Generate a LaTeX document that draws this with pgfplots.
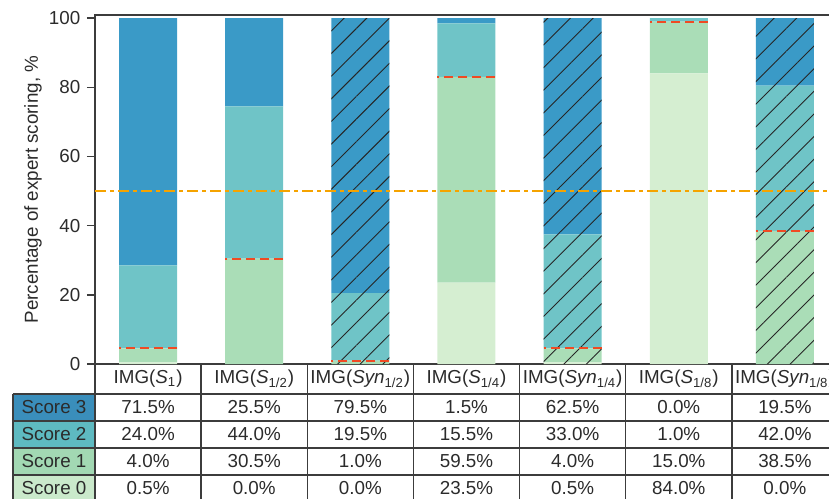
\documentclass[border=0pt]{standalone}
\usepackage{fontspec}
\setmainfont{Liberation Sans}
\usepackage{pgfplots}
\pgfplotsset{compat=1.18}
\usepackage{pgfplotstable}
\usetikzlibrary{patterns.meta}
\pgfkeys{/pgf/number format/assume math mode=true}

\definecolor{sthree}{HTML}{3A9AC7}
\definecolor{stwo}{HTML}{6FC4C7}
\definecolor{sone}{HTML}{AADDB7}
\definecolor{szero}{HTML}{D5EED1}
\definecolor{cthree}{HTML}{3A8EBB}
\definecolor{ctwo}{HTML}{5EBAC1}
\definecolor{cone}{HTML}{A2D8B3}
\definecolor{czero}{HTML}{CAE9CB}
\definecolor{axisgray}{HTML}{3C3C3C}
\definecolor{textgray}{HTML}{2B2B2B}
\definecolor{orangec}{HTML}{F5A300}
\definecolor{redc}{HTML}{F04A23}

% score shares per image, score 0 at the bottom of each bar
\pgfplotstableread{
x  s0   s1   s2   s3
0  0.5  4.0  24.0 71.5
1  0.0  30.5 44.0 25.5
2  0.0  1.0  19.5 79.5
3  23.5 59.5 15.5 1.5
4  0.5  4.0  33.0 62.5
5  84.0 15.0 1.0  0.0
6  0.0  38.5 42.0 19.5
}\scores

\begin{document}
\fontsize{9.4}{11}\selectfont
\begin{tikzpicture}
\begin{axis}[
    name=main,
    scale only axis,
    width=371.5pt, height=174.5pt,
    xmin=-0.5, xmax=6.5, ymin=0, ymax=100.9,
    enlargelimits=false,
    ybar stacked, bar width=29pt,
    xtick=\empty,
    ytick={0,20,...,100},
    tick align=outside, major tick length=4pt,
    ytick style={draw=axisgray, line width=0.75pt},
    axis line style={draw=axisgray, line width=0.75pt},
    ylabel={Percentage of expert scoring, \%},
    every axis y label/.style={at={(axis description cs:-0.0834,0.5)}, rotate=90, anchor=center},
    tick label style={text=textgray},
    label style={text=textgray},
]
\addplot[fill=szero, draw=none] table[x=x, y=s0] {\scores};
\addplot[fill=sone, draw=none] table[x=x, y=s1] {\scores};
\addplot[fill=stwo, draw=none] table[x=x, y=s2] {\scores};
\addplot[fill=sthree, draw=none] table[x=x, y=s3] {\scores};
\end{axis}

% hatching for the synthetic images, thresholds on top
\begin{axis}[
    at={(main.south west)}, anchor=south west,
    scale only axis,
    width=371.5pt, height=174.5pt,
    xmin=-0.5, xmax=6.5, ymin=0, ymax=100.9,
    enlargelimits=false,
    hide axis,
]
\addplot[ybar, bar width=29pt, bar shift=0pt, draw=none,
    pattern={Lines[angle=45, distance=8pt, line width=0.45pt]}, pattern color=black!85]
    coordinates {(2,100) (4,100) (6,100)};
\addplot[only marks, mark=-, mark size=14.5pt,
    mark options={draw=redc, line width=1pt, dash pattern=on 4.5pt off 2.5pt}]
    table[x=x, y expr=\thisrow{s0}+\thisrow{s1}] {\scores};
\addplot[draw=orangec, line width=0.85pt, dash pattern=on 5.5pt off 2pt on 2pt off 2pt]
    coordinates {(-0.5,50) (6.5,50)};
\end{axis}

% table under the plot, in reference pixels from the axis corner
\begin{scope}[shift={(main.south west)}, x=0.5pt, y=-0.5pt]
\def\cw{106.14}
\fill[cthree] (-82,30) rectangle (0,57);
\fill[ctwo] (-82,57) rectangle (0,84);
\fill[cone] (-82,84) rectangle (0,111);
\fill[czero] (-82,111) rectangle (0,138);
\begin{scope}[draw=axisgray, line width=0.7pt]
\foreach \yy in {30,57,84,111}
    \draw (-82,\yy) -- (7*\cw,\yy);
\foreach \k in {0,...,7}
    \draw (\k*\cw,0) -- (\k*\cw,140);
\draw (-82,30) -- (-82,140);
\end{scope}
\foreach \lab [count=\k from 0] in {
    {IMG(\textit{S}\textsubscript{1})},
    {IMG(\textit{S}\textsubscript{1/2})},
    {IMG(\textit{Syn}\textsubscript{1/2})},
    {IMG(\textit{S}\textsubscript{1/4})},
    {IMG(\textit{Syn}\textsubscript{1/4})},
    {IMG(\textit{S}\textsubscript{1/8})},
    {IMG(\textit{Syn}\textsubscript{1/8})}}
    \node[text=textgray] at ({(\k+0.5)*\cw},15) {\lab};
\foreach \s/\yy in {3/43.5, 2/70.5, 1/97.5, 0/124.5}
    \node[text=textgray] at (-41,\yy) {Score \s};
\foreach \r in {0,...,6} {
    \foreach \c/\yy in {s3/43.5, s2/70.5, s1/97.5, s0/124.5} {
        \pgfplotstablegetelem{\r}{\c}\of\scores
        \node[text=textgray] at ({(\r+0.5)*\cw},\yy)
            {\pgfmathprintnumber[fixed, fixed zerofill, precision=1]{\pgfplotsretval}\%};
    }
}
\pgfresetboundingbox
\path[use as bounding box] (-95,-364) rectangle (734,134);
\end{scope}
\end{tikzpicture}
\end{document}
